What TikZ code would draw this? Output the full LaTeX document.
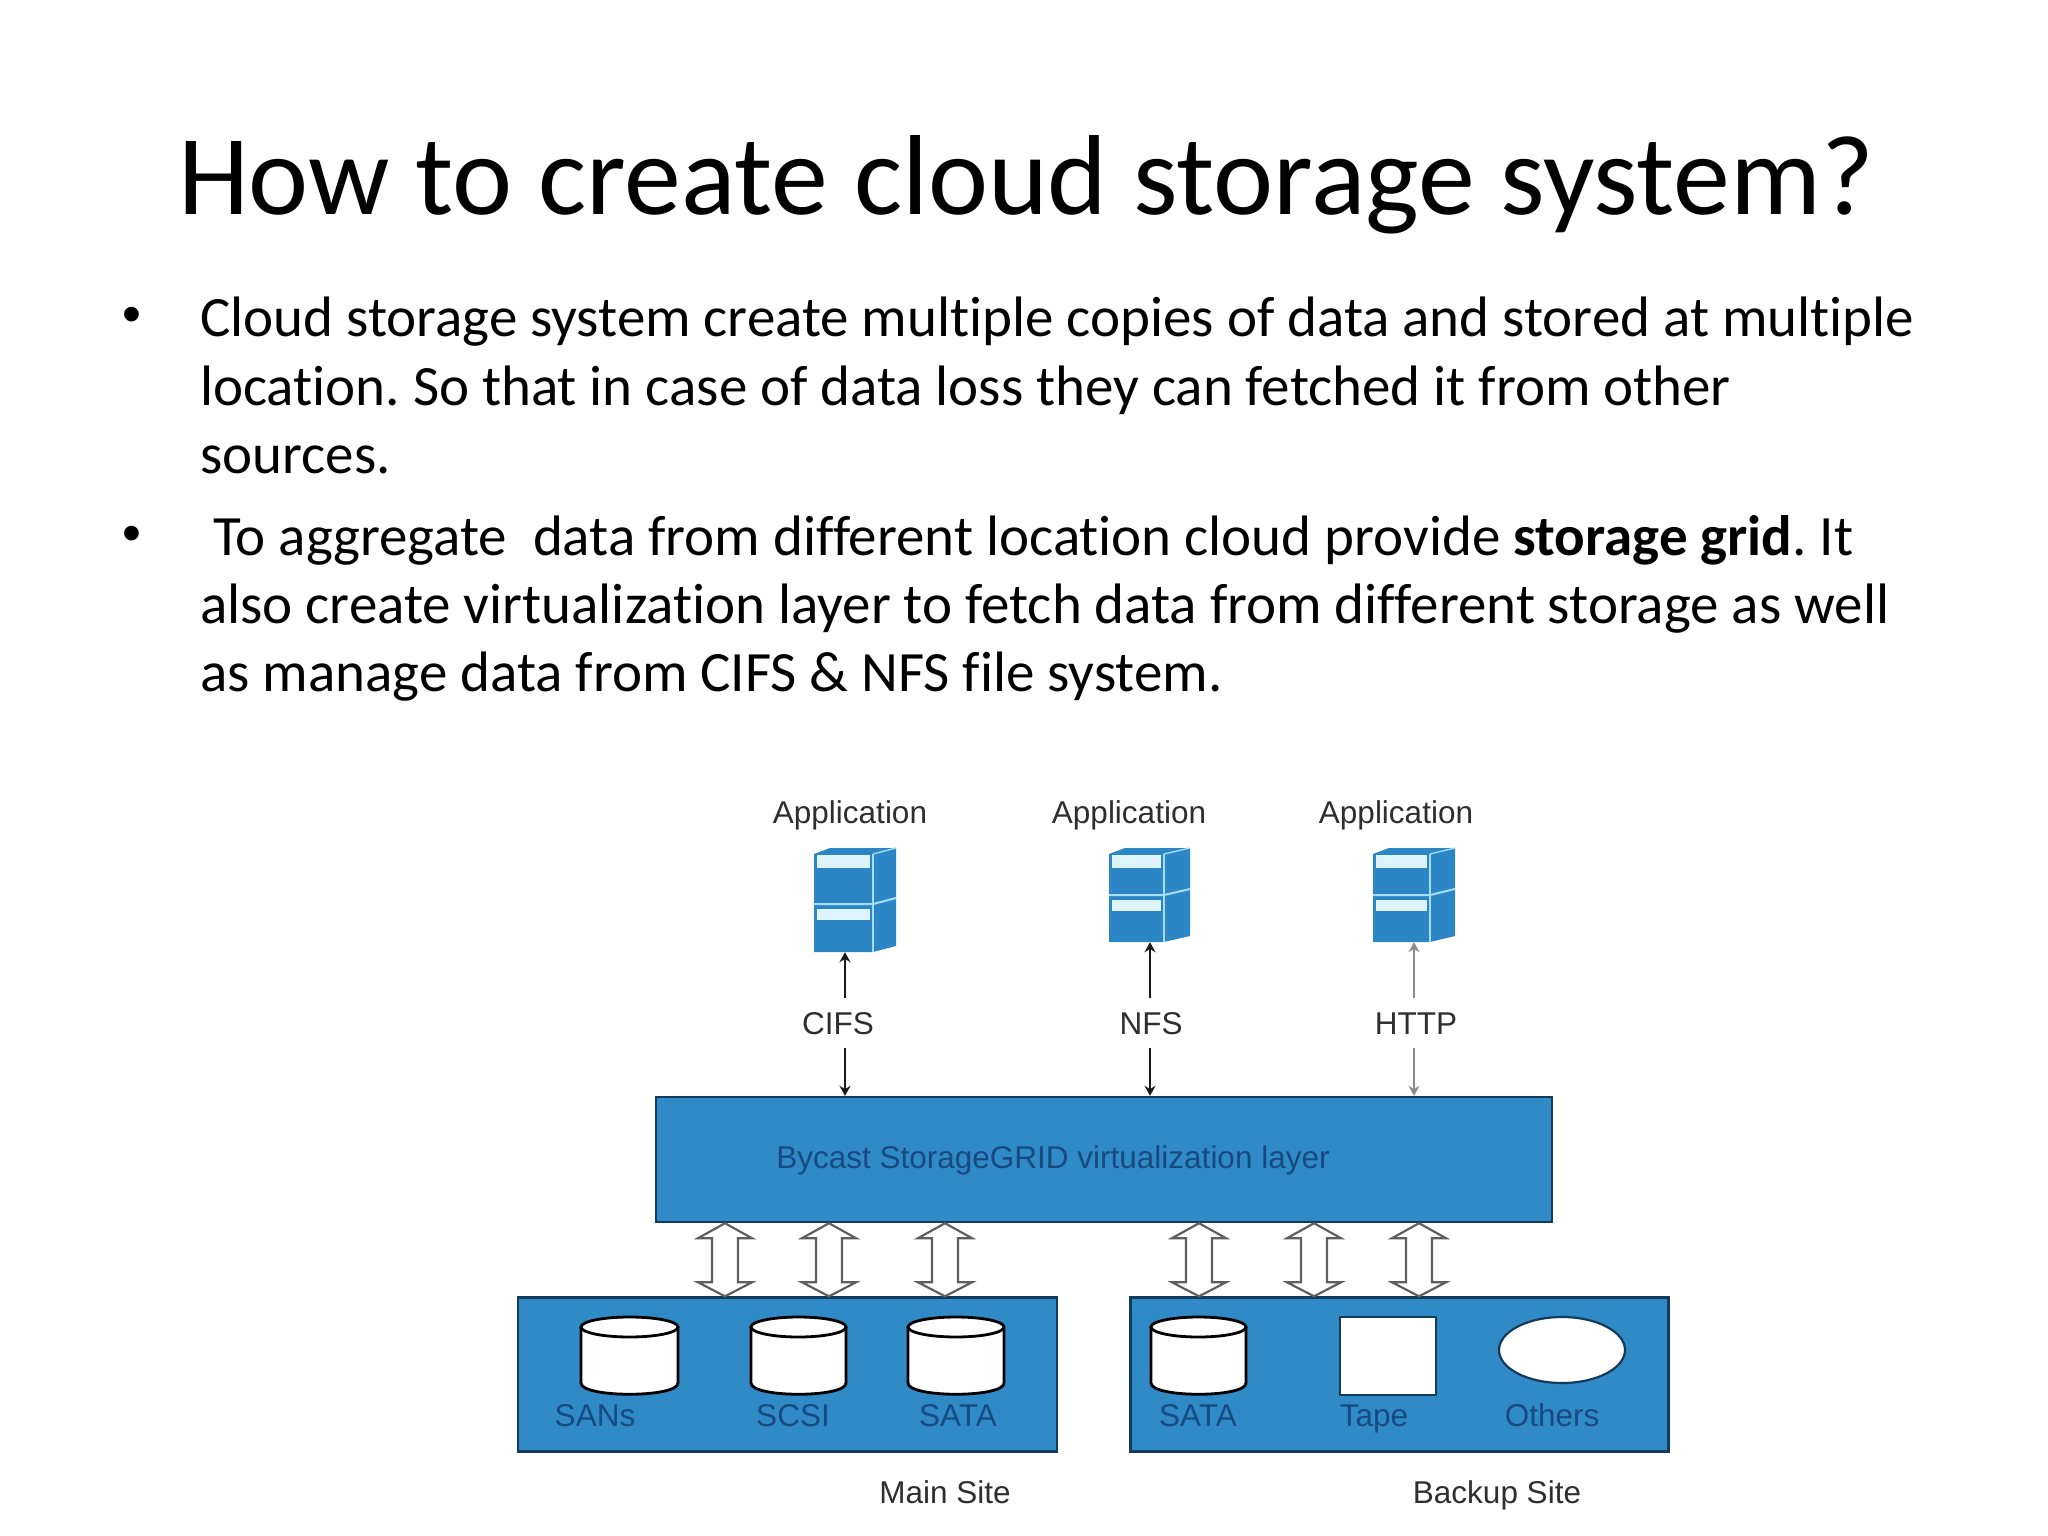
\documentclass[tikz,border=0pt]{standalone}
\usepackage{fontspec}
\setmainfont[RawFeature={-liga;-clig;-dlig}]{Carlito}
\newfontfamily\arialf{Liberation Sans}
\usetikzlibrary{arrows.meta,calc,shapes.geometric}
\definecolor{boxblue}{HTML}{2F8AC6}
\definecolor{boxedge}{HTML}{143A5C}
\definecolor{navy}{HTML}{174A80}
\definecolor{srvblue}{HTML}{2C85C5}
\definecolor{srvline}{HTML}{A5DDF5}
\definecolor{hollowgrey}{HTML}{5F5F5F}
\definecolor{labelgrey}{HTML}{2E2E2E}
\tikzset{
  titletext/.style={inner sep=0,anchor=base,font=\fontsize{113.8}{114}\selectfont},
  bodytext/.style={inner sep=0,anchor=base west,font=\frenchspacing\fontsize{57}{68}\selectfont},
  bullettext/.style={inner sep=0,anchor=center,font=\arialf\fontsize{54}{60}\selectfont},
  bluebox/.style={draw=boxedge,line width=2.4,fill=boxblue,inner sep=0},
  dlabel/.style={inner sep=0,text height=22.5,text depth=0,text=labelgrey,font=\arialf\fontsize{31.5}{36}\selectfont},
  ilabel/.style={inner sep=0,text height=22.5,text depth=0,text=navy,font=\arialf\fontsize{31.5}{36}\selectfont},
  protolabel/.style={dlabel,minimum height=50},
  srvbox/.style={inner sep=0,minimum height=96},
  thinarrow/.style={-{Stealth[length=10,width=11]},line width=2.2,black!90},
  greyarrow/.style={-{Stealth[length=10,width=11]},line width=2.2,black!45},
  hollow/.style={draw=hollowgrey,fill=white,line width=2.2,
    to path={(\tikztostart) -- ++(27,15) -- ++(-14,0) -- ($(\tikztotarget)+(13,-14)$) -- ++(14,0)
      -- (\tikztotarget) -- ++(-27,-14) -- ++(14,0) -- ($(\tikztostart)+(-13,15)$) -- ++(-14,0) -- cycle}},
  cyl/.style={draw=black,fill=white,line width=2.8},
  plainshape/.style={draw=boxedge,fill=white,line width=2.2,inner sep=0},
}
% #1 left, #2 fold, #3 right, #4 front top, #5 divider, #6 bottom
\newcommand{\mysrv}[6]{%
  \fill[srvblue] (#1,#4) -- (#1+16,#4-6) -- (#3,#4-6) -- (#3,#6-6) -- (#2,#6) -- (#1,#6) -- cycle;
  \fill[srvline!35!white] (#1+3,#4+1) rectangle (#2-3,#4+14);
  \fill[srvline!35!white] (#1+3,#5+5) rectangle (#2-3,#5+16);
  \draw[srvline,line width=2] (#1,#5) -- (#2,#5) -- (#3,#5-6);
  \draw[srvline,line width=2] (#2,#4) -- (#2,#6);
  \draw[srvline,line width=1.4] (#2,#4) -- (#3,#4-6);
}
\newcommand{\mycyl}[2]{%
  \draw[cyl] (#1-#2,1327) -- (#1-#2,1383) .. controls (#1-#2,1398) and (#1+#2,1398) .. (#1+#2,1383) -- (#1+#2,1327);
  \draw[cyl] (#1,1327) ellipse [x radius=#2,y radius=10];
}
\begin{document}
\begin{tikzpicture}[x=1pt,y=-1pt]
\useasboundingbox (0,0) rectangle (2048,1536);
% Title and text
\node[titletext] (title) at (1026,214) {How to create cloud storage system?};
\node[bullettext] (b1) at (132,320) {•};
\node[bodytext] (l1) at (200,336) {Cloud storage system create multiple copies of data and stored at multiple};
\node[bodytext] (l2) at (200,405) {location. So that in case of data loss they can fetched it from other};
\node[bodytext] (l3) at (200,473) {sources.};
\node[bullettext] (b2) at (132,539) {•};
\node[bodytext] (l4) at (213,555) {To aggregate\ \ data from different location cloud provide \textbf{storage grid}. It};
\node[bodytext] (l5) at (200,623) {also create virtualization layer to fetch data from different storage as well};
\node[bodytext] (l6) at (200,691.5) {as manage data from CIFS \& NFS file system.};
% Applications
\node[dlabel] (appA) at (850,812) {Application};
\node[dlabel] (appB) at (1129,812) {Application};
\node[dlabel] (appC) at (1396,812) {Application};
\mysrv{814}{873}{896}{854}{904}{952}
\mysrv{1109}{1164}{1190}{854}{895}{942}
\mysrv{1373}{1430}{1455}{854}{895}{942}
\node[srvbox,minimum width=82] (srvA) at (855,904) {};
\node[srvbox,minimum width=81] (srvB) at (1149.5,894) {};
\node[srvbox,minimum width=82] (srvC) at (1414,894) {};
% Layer and sites
\node[bluebox,minimum width=896,minimum height=125] (layer) at (1104,1159.5) {};
\node[bluebox,minimum width=539,minimum height=154] (mainsite) at (787.5,1374.5) {};
\node[bluebox,minimum width=538,minimum height=154] (backup) at (1399.5,1374.5) {};
\node[ilabel] (layertext) at (1053,1157) {Bycast StorageGRID virtualization layer};
% Protocols
\node[protolabel] (cifs) at (838,1023) {CIFS};
\node[protolabel] (nfs) at (1151,1023) {NFS};
\node[protolabel] (http) at (1416,1023) {HTTP};
\coordinate (axA) at (845,0);
\coordinate (axB) at (1150,0);
\coordinate (axC) at (1414,0);
\draw[thinarrow] (cifs.north -| axA) -- (srvA.south -| axA);
\draw[thinarrow] (cifs.south -| axA) -- (layer.north -| axA);
\draw[thinarrow] (nfs.north -| axB) -- (srvB.south -| axB);
\draw[thinarrow] (nfs.south -| axB) -- (layer.north -| axB);
\draw[greyarrow] (http.north -| axC) -- (srvC.south -| axC);
\draw[greyarrow] (http.south -| axC) -- (layer.north -| axC);
% Double arrows
\coordinate (d1) at (725,0);
\coordinate (d2) at (829,0);
\coordinate (d3) at (945,0);
\coordinate (d4) at (1199,0);
\coordinate (d5) at (1314,0);
\coordinate (d6) at (1419,0);
\draw[hollow] (layer.south -| d1) to (mainsite.north -| d1);
\draw[hollow] (layer.south -| d2) to (mainsite.north -| d2);
\draw[hollow] (layer.south -| d3) to (mainsite.north -| d3);
\draw[hollow] (layer.south -| d4) to (backup.north -| d4);
\draw[hollow] (layer.south -| d5) to (backup.north -| d5);
\draw[hollow] (layer.south -| d6) to (backup.north -| d6);
% Storage devices
\mycyl{629.5}{48.5}
\mycyl{798.5}{47.5}
\mycyl{956}{48}
\mycyl{1198.5}{47.5}
\node[plainshape,minimum width=96,minimum height=78] (tape) at (1388,1356) {};
\node[plainshape,ellipse,minimum width=126,minimum height=66] (others) at (1562,1350) {};
\node[ilabel] (l-sans) at (595,1415) {SANs};
\node[ilabel] (l-scsi) at (793,1415) {SCSI};
\node[ilabel] (l-sata) at (958,1415) {SATA};
\node[ilabel] (l-satb) at (1198,1415) {SATA};
\node[ilabel] (l-tape) at (1374,1415) {Tape};
\node[ilabel] (l-othr) at (1552,1415) {Others};
\node[dlabel] (mainlbl) at (945,1492) {Main Site};
\node[dlabel] (backlbl) at (1497,1492) {Backup Site};
\end{tikzpicture}
\end{document}
